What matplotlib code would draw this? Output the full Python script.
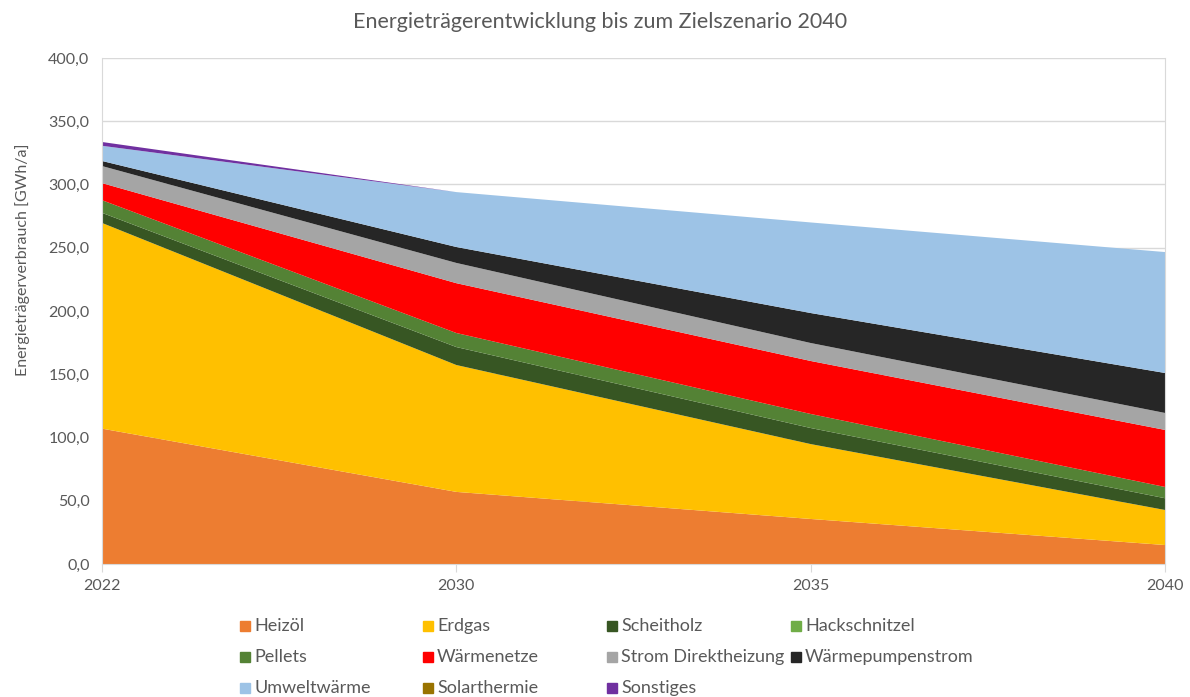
import matplotlib
matplotlib.use("Agg")
import numpy as np
import matplotlib.pyplot as plt
from matplotlib.patches import Rectangle
from matplotlib.ticker import FuncFormatter

plt.rcParams["font.family"] = ["Lato", "DejaVu Sans"]

years = ["2022", "2030", "2035", "2040"]

# Energieträger in GWh/a, von unten nach oben gestapelt
heizoel = [107.0, 57.0, 35.6, 15.0]
erdgas = [162.6, 100.3, 59.2, 27.7]
scheitholz = [8.0, 14.2, 12.7, 9.3]
hackschnitzel = [0.0, 0.0, 0.0, 0.0]
pellets = [10.0, 11.1, 11.1, 8.9]
waermenetze = [13.5, 39.4, 41.9, 45.1]
strom_direkt = [13.5, 16.0, 14.2, 13.4]
wp_strom = [4.0, 12.6, 23.7, 31.6]
umweltwaerme = [12.0, 43.4, 71.6, 95.6]
solarthermie = [0.0, 0.0, 0.0, 0.0]
sonstiges = [3.0, 0.0, 0.0, 0.0]

labels = ["Heizöl", "Erdgas", "Scheitholz", "Hackschnitzel", "Pellets",
          "Wärmenetze", "Strom Direktheizung", "Wärmepumpenstrom",
          "Umweltwärme", "Solarthermie", "Sonstiges"]
colors = ["#ED7D31", "#FFC000", "#375623", "#70AD47", "#548235",
          "#FF0000", "#A5A5A5", "#262626", "#9DC3E6", "#997300", "#7030A0"]
series = [heizoel, erdgas, scheitholz, hackschnitzel, pellets, waermenetze,
          strom_direkt, wp_strom, umweltwaerme, solarthermie, sonstiges]

text_col = "#595959"
grid_col = "#D9D9D9"
W, H = 1190, 697

fig = plt.figure(figsize=(W / 100, H / 100), dpi=100)
ax = fig.add_axes([102 / W, 1 - 564 / H, (1165 - 102) / W, (564 - 58) / H])

x = np.arange(len(years))
ax.stackplot(x, *series, colors=colors, linewidth=0)

ax.set_xlim(0, len(years) - 1)
ax.set_ylim(0, 400)
ax.set_yticks(np.arange(0, 401, 50))
ax.yaxis.set_major_formatter(FuncFormatter(lambda v, _: f"{v:.1f}".replace(".", ",")))
ax.set_xticks(x)
ax.set_xticklabels(years)
ax.grid(axis="y", color=grid_col, linewidth=1)
ax.set_axisbelow(True)

ax.spines["top"].set_visible(False)
for side in ["left", "right", "bottom"]:
    ax.spines[side].set_color(grid_col)
ax.tick_params(axis="y", length=0, labelsize=11.5, labelcolor=text_col, pad=9)
ax.tick_params(axis="x", length=6, color=grid_col, labelsize=11.5, labelcolor=text_col, pad=5)

ax.set_ylabel("Energieträgerverbrauch [GWh/a]", fontsize=11.5, color=text_col)
ax.yaxis.set_label_coords(-(102 - 30) / (1165 - 102), 0.5 + 51 / 506)
fig.text(600 / W, 1 - 22 / H, "Energieträgerentwicklung bis zum Zielszenario 2040",
         ha="center", va="center", fontsize=15.5, color=text_col)

# Legende: 4 Spalten, 3 Zeilen
col_x = [240, 423, 607, 791]
row_y = [626, 657, 688]
for i, (lab, col) in enumerate(zip(labels, colors)):
    px = col_x[i % 4]
    py = row_y[i // 4]
    fig.patches.append(Rectangle((px / W, 1 - (py + 5) / H), 10 / W, 10 / H,
                                 transform=fig.transFigure, color=col))
    fig.text((px + 14) / W, 1 - py / H, lab, ha="left", va="center",
             fontsize=13, color=text_col)

fig.savefig("out.png", dpi=100)
